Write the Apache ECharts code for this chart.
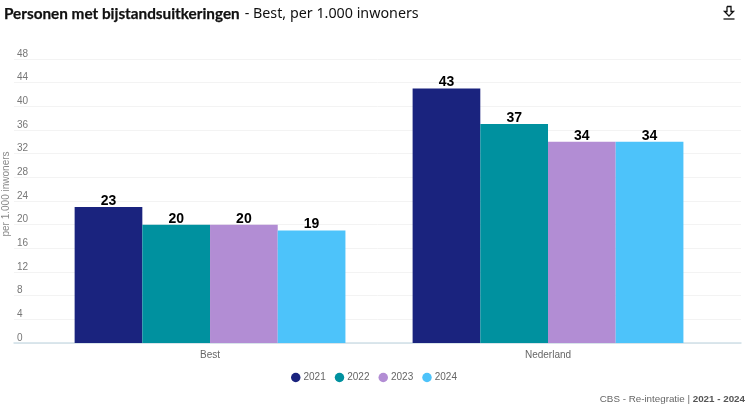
<!DOCTYPE html>
<html><head><meta charset="utf-8">
<style>html,body{margin:0;padding:0;background:#fff}#c{width:755px;height:407px}</style>
<script src="https://cdn.jsdelivr.net/npm/echarts@6/dist/echarts.min.js"></script>
</head><body><div id="c"></div>
<script>
const categories = ['Best', 'Nederland'];
const years = ['2021', '2022', '2023', '2024'];
const v2021 = [23, 43];
const v2022 = [20, 37];
const v2023 = [20, 34];
const v2024 = [19, 34];
const seriesValues = [v2021, v2022, v2023, v2024];
const colors = ['#1a237e', '#00919f', '#b28dd4', '#4dc3fa'];

const chart = echarts.init(document.getElementById('c'), null, {renderer: 'canvas'});
chart.setOption({
  animation: false,
  textStyle: {fontFamily: '"Liberation Sans", Arial, sans-serif'},
  title: {
    left: 4, top: 5, padding: 0,
    text: '{b|Personen met bijstandsuitkeringen} {n|- Best, per 1.000 inwoners}',
    textStyle: {fontWeight: 'normal', rich: {
      b: {fontFamily: 'Lato', fontWeight: 'bold', fontSize: 15.3, color: '#111', textBorderColor: '#111', textBorderWidth: 0.25},
      n: {fontFamily: '"Noto Sans"', fontWeight: 'normal', fontSize: 14.3, color: '#111'}
    }}
  },
  legend: {
    data: years, left: 286, top: 367.5, icon: 'circle', itemWidth: 9.5, itemHeight: 9.5, itemGap: 9,
    textStyle: {fontSize: 10, color: '#666', padding: [0, 0, 0, -2]}
  },
  grid: {left: 14, right: 14, top: 59, bottom: 64, outerBoundsMode: 'none'},
  xAxis: {
    type: 'value', min: -0.58, max: 1.571,
    splitLine: {show: false},
    axisLine: {show: true, onZero: false, lineStyle: {color: '#cfe0e8', width: 1.5}},
    axisTick: {show: false},
    axisLabel: {
      customValues: [0, 1], margin: 7, fontSize: 10, color: '#666',
      formatter: v => categories[Math.round(v)]
    }
  },
  yAxis: {
    type: 'value', min: 0, max: 48, interval: 4,
    name: 'per 1.000 inwoners', nameLocation: 'middle', nameGap: 3, nameMoveOverlap: false,
    nameTextStyle: {fontSize: 10, color: '#888', padding: [0, 0, 0, 14]},
    axisLine: {show: false}, axisTick: {show: false},
    axisLabel: {inside: true, margin: 3, fontSize: 10, color: '#777', verticalAlign: 'bottom', align: 'left', lineHeight: 10,
      showMinLabel: true},
    splitLine: {lineStyle: {color: '#f3f3f3', width: 1}}
  },
  series: years.map((y, i) => ({
    name: y, type: 'bar', barWidth: 67.7, barGap: 0,
    data: seriesValues[i].map((v, k) => [k, v]),
    itemStyle: {color: colors[i]},
    label: {show: true, position: 'top', distance: -1, fontSize: 14, fontWeight: 'bold', color: '#000'}
  })),
  graphic: [
    {type: 'text', right: 10, top: 394.5, style: {
      text: '{a|CBS - Re-integratie | }{b|2021 - 2024}',
      rich: {a: {fontSize: 9.8, fill: '#666', fontFamily: '"Liberation Sans"'}, b: {fontSize: 9.8, fontWeight: 'bold', fill: '#555', fontFamily: '"Liberation Sans"'}}
    }},
    {type: 'polyline', shape: {points: [[727,6.5],[731,6.5],[731,11.5],[733.5,11.5],[729,16],[724.5,11.5],[727,11.5],[727,6.5]]}, style: {fill: 'none', stroke: '#111', lineWidth: 1.3}},
    {type: 'line', shape: {x1: 723.5, y1: 19, x2: 734.5, y2: 19}, style: {stroke: '#111', lineWidth: 1.3}}
  ]
});
</script></body></html>
